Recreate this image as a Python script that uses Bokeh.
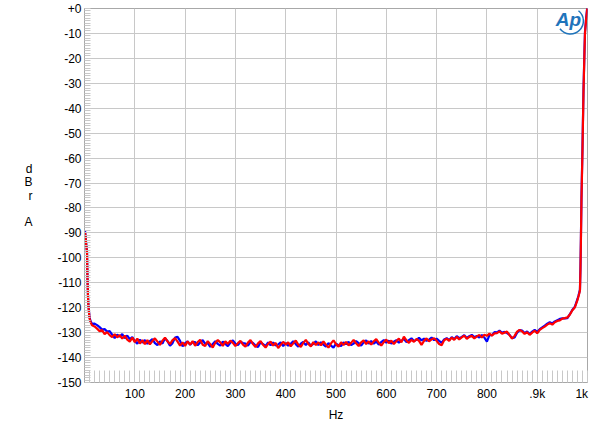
from bokeh.plotting import figure
from bokeh.models import FixedTicker, Range1d, Label
from bokeh.embed import file_html
from bokeh.resources import INLINE

# ---------------- data ----------------
head_freq = [1, 2, 3, 4, 5, 6, 7, 8, 10, 12, 15]
mid_freq = list(range(20, 985, 5))
tail_freq = [982, 984, 985, 986, 987, 988, 990, 992, 994, 995, 997, 999, 1000]

red_head = [-89.6, -91.5, -94.0, -96.0, -98.0, -109.0, -116.0, -120.0, -124.2, -125.8, -127.0]
blue_head = [-89.0, -91.0, -93.5, -95.5, -97.5, -108.5, -115.5, -119.5, -123.8, -125.3, -126.5]

red_mid = [
    -127.5, -128.4, -129.4, -129.0, -130.6, -129.8, -131.0, -131.8, -130.6, -131.9,
    -131.0, -132.4, -131.2, -132.8, -133.6, -132.0, -133.8, -132.4, -134.4, -133.0,
    -134.6, -133.0, -134.7, -133.4, -132.3, -133.6, -134.9, -133.2, -132.0, -133.5,
    -134.6, -133.0, -132.2, -133.6, -135.2, -133.9, -135.3, -133.5, -134.8, -133.4,
    -135.3, -133.8, -132.9, -134.9, -135.4, -133.4, -134.6, -136.0, -134.1, -133.0,
    -133.9, -135.3, -133.5, -134.5, -133.2, -134.1, -135.4, -134.2, -133.3, -134.8,
    -135.6, -134.0, -133.0, -134.6, -135.8, -134.3, -133.4, -134.9, -136.0, -134.5,
    -133.6, -135.2, -134.1, -136.2, -134.9, -133.7, -134.8, -133.9, -135.5, -134.3,
    -133.2, -134.8, -135.7, -134.1, -132.9, -134.5, -135.5, -133.8, -135.0, -133.9,
    -135.1, -133.5, -134.8, -136.0, -134.3, -133.1, -134.6, -135.6, -133.9, -135.0,
    -133.7, -135.1, -134.1, -132.9, -134.3, -135.4, -133.9, -133.1, -134.6, -133.5,
    -134.8, -133.5, -132.6, -134.0, -135.2, -133.8, -132.8, -134.2, -133.2, -134.6,
    -133.5, -132.4, -133.9, -131.6, -133.1, -134.1, -132.9, -133.7, -132.5, -133.3,
    -134.9, -133.3, -132.3, -133.5, -132.7, -132.2, -133.3, -134.6, -135.1, -133.1,
    -132.4, -133.3, -132.0, -132.9, -131.7, -132.7, -131.9, -131.2, -132.5, -131.7,
    -131.3, -132.3, -131.5, -130.9, -132.0, -130.8, -131.3, -130.4, -131.2, -130.3,
    -130.2, -129.5, -130.4, -130.0, -129.6, -131.0, -132.4, -131.3, -129.6, -128.9,
    -129.5, -130.5, -129.8, -130.9, -130.0, -129.2, -130.3, -128.9, -128.2, -127.6,
    -126.8, -126.2, -126.8, -125.8, -125.3, -125.1, -124.4, -124.2, -123.9, -122.7,
    -121.0, -119.8, -117.0,
]
blue_mid = [
    -126.4, -127.0, -127.8, -128.8, -128.6, -129.6, -129.4, -130.8, -132.2, -130.8,
    -131.6, -130.6, -132.2, -131.2, -132.6, -131.8, -133.4, -134.4, -132.8, -134.0,
    -133.0, -134.5, -133.4, -132.6, -134.2, -135.0, -133.5, -134.4, -132.3, -133.4,
    -135.2, -134.2, -132.0, -131.7, -133.3, -135.5, -134.2, -133.5, -134.9, -133.8,
    -133.8, -135.1, -134.0, -133.0, -134.5, -134.1, -135.7, -134.6, -133.5, -134.5,
    -135.2, -133.6, -134.5, -135.4, -134.0, -133.1, -134.4, -135.0, -133.7, -134.2,
    -134.4, -135.2, -133.7, -134.2, -135.2, -135.8, -133.9, -134.6, -135.4, -133.9,
    -135.1, -133.9, -135.2, -134.8, -133.9, -135.4, -134.2, -135.2, -134.5, -133.5,
    -134.6, -135.6, -134.4, -133.7, -135.0, -133.9, -135.2, -134.5, -133.5, -135.0,
    -133.9, -134.8, -135.6, -134.2, -135.2, -136.0, -134.4, -135.0, -135.4, -133.9,
    -134.6, -133.7, -135.0, -134.4, -133.4, -134.2, -135.2, -133.9, -133.1, -134.4,
    -133.4, -134.4, -133.6, -134.8, -133.8, -133.0, -134.0, -133.2, -134.4, -133.6,
    -133.0, -134.0, -133.2, -132.6, -133.8, -133.0, -132.3, -133.4, -132.9, -132.1,
    -133.1, -132.4, -133.3, -132.8, -132.0, -133.0, -132.4, -133.3, -134.1, -132.7,
    -132.2, -133.0, -131.8, -132.6, -131.4, -132.2, -131.7, -131.0, -132.1, -131.4,
    -130.9, -131.8, -131.3, -132.0, -130.9, -132.0, -133.6, -131.0, -131.0, -129.8,
    -129.9, -129.2, -130.1, -129.7, -130.2, -130.9, -132.2, -131.9, -130.0, -129.0,
    -129.2, -130.2, -129.5, -130.6, -129.6, -128.9, -129.7, -128.6, -127.9, -127.2,
    -126.4, -125.8, -126.3, -125.5, -125.0, -124.5, -124.3, -124.3, -124.2, -122.6,
    -120.8, -119.6, -116.6,
]
red_tail = [-115.5, -114.0, -113.0, -105.0, -92.0, -77.0, -57.0, -34.0, -17.5, -10.0, -5.0, -1.0, 2.0]
blue_tail = [-115.2, -113.6, -112.8, -104.0, -91.0, -76.0, -56.0, -33.0, -17.0, -9.5, -4.5, -0.5, 2.0]

freq = head_freq + mid_freq + tail_freq
red_db = red_head + red_mid + red_tail
blue_db = blue_head + blue_mid + blue_tail

x_grid_ticks = [100, 200, 300, 400, 500, 600, 700, 800, 900, 1000]
x_label_ticks = [100, 200, 300, 400, 500, 600, 700, 800, 900, 988.5]
x_labels = ["100", "200", "300", "400", "500", "600", "700", "800", ".9k", "1k"]
y_ticks = list(range(-150, 1, 10))
y_labels = ["-150", "-140", "-130", "-120", "-110", "-100", "-90", "-80", "-70", "-60",
            "-50", "-40", "-30", "-20", "-10", "+0"]

FONT = "Liberation Sans"
GRID = "#c8c8c8"
EDGE = "#a8a8a8"

p = figure(frame_width=503, frame_height=374,
           x_range=Range1d(0, 1000), y_range=Range1d(-150, 0),
           output_backend="svg", toolbar_location=None,
           min_border_left=84, min_border_right=13, min_border_top=8, min_border_bottom=40,
           background_fill_color="white", border_fill_color="white",
           outline_line_color=EDGE)

p.xaxis.ticker = FixedTicker(ticks=x_label_ticks, minor_ticks=list(range(0, 1001, 10)))
p.yaxis.ticker = FixedTicker(ticks=y_ticks, minor_ticks=list(range(-150, 1, 1)))
p.xaxis.major_label_overrides = dict(zip(x_label_ticks, x_labels))
p.yaxis.major_label_overrides = dict(zip(y_ticks, y_labels))
p.xgrid.ticker = FixedTicker(ticks=x_grid_ticks)

for ax in (p.xaxis, p.yaxis):
    ax.major_tick_in = 0
    ax.major_tick_out = 0
    ax.minor_tick_out = 0
    ax.minor_tick_line_color = GRID
    ax.axis_line_color = EDGE
    ax.major_label_text_font = FONT
    ax.major_label_text_font_size = "12px"
    ax.major_label_text_color = "black"
    ax.axis_label_text_font = FONT
    ax.axis_label_text_font_size = "12px"
    ax.axis_label_text_font_style = "normal"
    ax.axis_label_text_color = "black"
p.xaxis.minor_tick_in = 12
p.yaxis.minor_tick_in = 6
p.xaxis.major_label_standoff = 4
p.yaxis.major_label_standoff = 3

p.xaxis.axis_label = "Hz"
p.xaxis.axis_label_standoff = 4

p.yaxis.axis_label = "d\nB\nr\n\nA"
p.yaxis.axis_label_orientation = "horizontal"
p.yaxis.axis_label_standoff = 22
p.yaxis.axis_label_text_align = "center"
p.yaxis.axis_label_text_line_height = 0.94

p.xgrid.grid_line_color = GRID
p.ygrid.grid_line_color = GRID

p.line(freq, blue_db, line_color="#0000ff", line_width=2.2)
p.line(freq, red_db, line_color="#ff0000", line_width=2.2)

# Ap logo
p.add_layout(Label(x=962, y=-4.5, text="Ap", text_align="center", text_baseline="middle",
                   text_font=FONT, text_font_size="19px", text_font_style="bold italic",
                   text_color="#1f74bb"))
p.arc(x=[966], y=[-5.0], radius=13, radius_units="screen", start_angle=-2.5, end_angle=0.9,
      direction="anticlock", line_color="#1f74bb", line_width=1.5)

open("out.html", "w").write(file_html(p, INLINE))
